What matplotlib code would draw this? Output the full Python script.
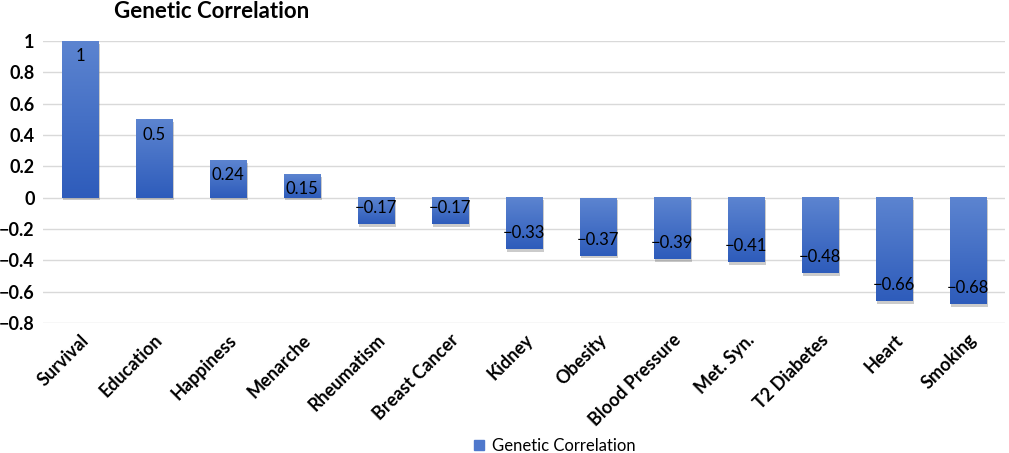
import numpy as np
import matplotlib.pyplot as plt
import matplotlib.patheffects as pe
from matplotlib.colors import LinearSegmentedColormap
from matplotlib.patches import Patch

plt.rcParams["font.family"] = ["Lato", "DejaVu Sans"]

traits = ["Survival", "Education", "Happiness", "Menarche", "Rheumatism",
          "Breast Cancer", "Kidney", "Obesity", "Blood Pressure", "Met. Syn.",
          "T2 Diabetes", "Heart", "Smoking"]
corr = [1, 0.5, 0.24, 0.15, -0.17, -0.17, -0.33, -0.37, -0.39, -0.41,
        -0.48, -0.66, -0.68]
yticks = [1, 0.8, 0.6, 0.4, 0.2, 0, -0.2, -0.4, -0.6, -0.8]

fig = plt.figure(figsize=(10.09, 4.53), dpi=100)
ax = fig.add_axes([43 / 1009, 1 - 323 / 453, 962 / 1009, 282 / 453])

grad = LinearSegmentedColormap.from_list("g", ["#2e5cbb", "#5c84d0"])
x = np.arange(len(traits))
w = 0.5
# base bars carry the soft drop shadow, gradient goes on top
ax.bar(x, corr, width=w, color="#4470c4", zorder=2, linewidth=0,
       path_effects=[pe.SimplePatchShadow(offset=(1, -2), alpha=0.3,
                                          shadow_rgbFace="#555555"),
                     pe.Normal()])
for xi, v in zip(x, corr):
    lo, hi = min(0, v), max(0, v)
    ax.imshow(np.linspace(0, 1, 100).reshape(-1, 1), cmap=grad, aspect="auto",
              origin="lower", interpolation="bilinear",
              extent=[xi - w / 2, xi + w / 2, lo, hi], zorder=3)
    txt = f"{v:g}".replace("-", "\u2212")
    off = -11 if v > 0 else 11.5
    ax.annotate(txt, (xi, v), xytext=(0, off), textcoords="offset points",
                ha="center", va="center", fontsize=12, color="black", zorder=4)

ax.set_xlim(-0.5, len(traits) - 0.5)
ax.set_ylim(-0.8, 1.0)
ax.set_yticks(yticks)
ax.set_yticklabels([f"{t:g}".replace("-", "\u2212") for t in yticks],
                   fontsize=13, fontweight="bold")
ax.set_xticks(x)
ax.set_xticklabels(traits, rotation=45, ha="right", rotation_mode="anchor",
                   fontsize=13, fontweight="bold")
ax.tick_params(length=0, pad=6)
ax.grid(axis="y", color="#d9d9d9", linewidth=1, zorder=0)
ax.set_axisbelow(True)
for s in ax.spines.values():
    s.set_visible(False)

fig.text(114 / 1009, 1 - 12 / 453, "Genetic Correlation", fontsize=16,
         fontweight="bold", ha="left", va="center")

fig.legend(handles=[Patch(color="#4f78cc", label="Genetic Correlation")],
           loc="center", bbox_to_anchor=(555 / 1009, 1 - 446 / 453),
           frameon=False, fontsize=12, handlelength=0.6, handleheight=0.6,
           handletextpad=0.5)

plt.savefig("out.png", dpi=100)
